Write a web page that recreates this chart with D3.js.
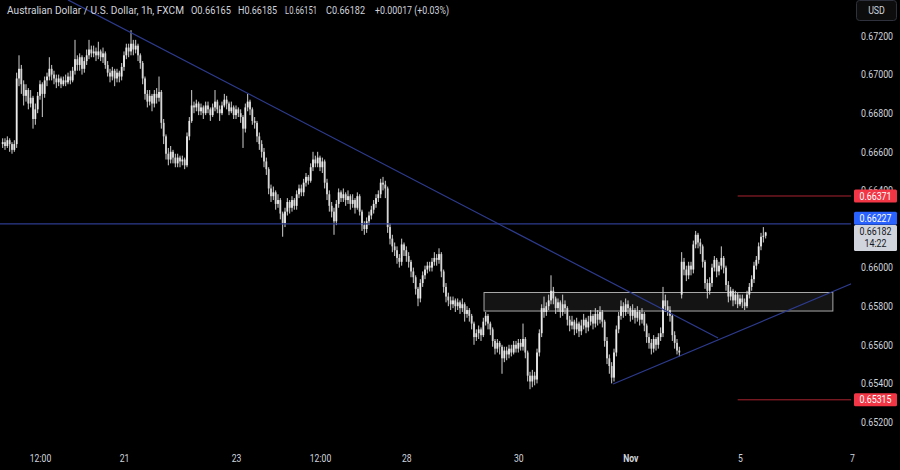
<!DOCTYPE html>
<html><head><meta charset="utf-8">
<script src="https://cdn.jsdelivr.net/npm/d3@7"></script>
<style>html,body{margin:0;padding:0;background:#000;overflow:hidden}</style>
</head><body>
<svg id="c" width="900" height="470"></svg>
<script>
// ---- DATA (AUD/USD, 1h candles, index = candle number) ----
const opens=[
.6664,.6665,.6663,.6666,.6664,.6661,.6664,.6698,.6703,.6695,
.6689,.6692,.6685,.6688,.6677,.6682,.6689,.6695,.6690,.6697,
.6699,.6703,.6700,.6698,.6696,.6698,.6695,.6697,.6696,.6699,
.6697,.6702,.6708,.6705,.6709,.6703,.6707,.6710,.6713,.6711,
.6712,.6710,.6712,.6709,.6711,.6705,.6701,.6699,.6702,.6698,
.6701,.6699,.6704,.6710,.6714,.6712,.6716,.6713,.6715,.6710,
.6706,.6698,.6690,.6686,.6689,.6685,.6690,.6688,.6691,.6675,
.6668,.6659,.6656,.6660,.6657,.6654,.6657,.6655,.6656,.6653,
.6668,.6676,.6684,.6683,.6685,.6681,.6683,.6680,.6684,.6682,
.6679,.6683,.6686,.6682,.6680,.6684,.6687,.6685,.6681,.6683,
.6679,.6682,.6680,.6678,.6672,.6683,.6686,.6682,.6676,.6675,
.6668,.6664,.6660,.6655,.6651,.6641,.6637,.6639,.6633,.6635,
.6628,.6623,.6629,.6634,.6631,.6635,.6632,.6638,.6641,.6639,
.6644,.6647,.6645,.6652,.6656,.6654,.6657,.6652,.6655,.6644,
.6638,.6632,.6629,.6624,.6633,.6639,.6636,.6638,.6635,.6637,
.6633,.6635,.6631,.6637,.6629,.6622,.6620,.6624,.6627,.6630,
.6633,.6636,.6638,.6644,.6643,.6641,.6621,.6615,.6611,.6609,
.6605,.6603,.6612,.6609,.6606,.6603,.6598,.6595,.6589,.6584,
.6592,.6596,.6599,.6601,.6600,.6603,.6605,.6604,.6607,.6598,
.6590,.6585,.6583,.6581,.6583,.6580,.6582,.6579,.6581,.6576,
.6578,.6575,.6571,.6564,.6566,.6568,.6565,.6572,.6575,.6571,
.6568,.6562,.6558,.6561,.6559,.6553,.6557,.6555,.6558,.6556,
.6560,.6558,.6561,.6559,.6563,.6556,.6544,.6541,.6544,.6542,
.6556,.6566,.6579,.6577,.6580,.6583,.6588,.6584,.6579,.6582,
.6577,.6581,.6579,.6573,.6570,.6572,.6568,.6571,.6567,.6570,
.6573,.6569,.6572,.6575,.6571,.6576,.6573,.6577,.6572,.6562,
.6553,.6549,.6543,.6556,.6568,.6575,.6580,.6577,.6581,.6579,
.6575,.6578,.6574,.6577,.6573,.6576,.6570,.6564,.6561,.6558,
.6563,.6560,.6564,.6566,.6583,.6580,.6578,.6575,.6565,.6561,
.6557,.6586,.6603,.6599,.6596,.6601,.6599,.6612,.6617,.6613,
.6611,.6603,.6592,.6588,.6592,.6600,.6604,.6598,.6601,.6605,
.6600,.6591,.6585,.6588,.6583,.6586,.6581,.6584,.6582,.6580,
.6586,.6590,.6594,.6601,.6604,.6611,.6616,.66165];
const highs=[
.6667,.6667,.6668,.6667,.6665,.6666,.6701,.6710,.6705,.6697,
.6695,.6693,.6692,.6689,.6685,.6691,.6697,.6696,.6699,.6701,
.6709,.6705,.6702,.6700,.6700,.6699,.6699,.6700,.6701,.6702,
.6704,.6718,.6710,.6711,.6710,.6709,.6713,.6718,.6715,.6715,
.6714,.6717,.6713,.6714,.6712,.6707,.6703,.6704,.6703,.6703,
.6702,.6706,.6712,.6716,.6716,.6723,.6718,.6718,.6716,.6711,
.6707,.6699,.6692,.6692,.6690,.6692,.6693,.6699,.6692,.6677,
.6669,.6662,.6663,.6661,.6659,.6659,.6658,.6658,.6657,.6670,
.6678,.6692,.6686,.6687,.6686,.6685,.6684,.6686,.6686,.6683,
.6685,.6692,.6687,.6684,.6686,.6690,.6689,.6686,.6686,.6684,
.6684,.6683,.6682,.6679,.6685,.6690,.6687,.6683,.6678,.6676,
.6670,.6666,.6662,.6657,.6652,.6643,.6642,.6640,.6638,.6636,
.6629,.6631,.6636,.6635,.6637,.6636,.6640,.6643,.6643,.6646,
.6649,.6648,.6654,.6660,.6658,.6660,.6658,.6657,.6656,.6646,
.6640,.6634,.6631,.6635,.6641,.6640,.6641,.6639,.6640,.6638,
.6638,.6636,.6639,.6638,.6630,.6624,.6626,.6629,.6632,.6635,
.6638,.6640,.6646,.6647,.6645,.6642,.6623,.6617,.6613,.6611,
.6607,.6615,.6613,.6611,.6608,.6604,.6600,.6596,.6590,.6594,
.6598,.6601,.6603,.6603,.6605,.6608,.6607,.6610,.6608,.6599,
.6592,.6587,.6585,.6585,.6584,.6584,.6583,.6584,.6582,.6580,
.6579,.6576,.6572,.6568,.6570,.6569,.6574,.6577,.6576,.6572,
.6569,.6563,.6563,.6562,.6560,.6559,.6559,.6560,.6560,.6562,
.6562,.6563,.6563,.6571,.6564,.6557,.6546,.6547,.6546,.6558,
.6568,.6581,.6585,.6582,.6586,.6596,.6590,.6585,.6584,.6583,
.6586,.6583,.6580,.6575,.6575,.6573,.6574,.6572,.6573,.6576,
.6574,.6575,.6578,.6576,.6579,.6578,.6580,.6578,.6573,.6564,
.6555,.6551,.6558,.6570,.6577,.6583,.6582,.6584,.6583,.6580,
.6581,.6579,.6580,.6578,.6579,.6577,.6571,.6566,.6563,.6565,
.6564,.6566,.6569,.6590,.6586,.6583,.6580,.6576,.6567,.6563,
.6559,.6608,.6605,.6601,.6603,.6603,.6614,.6619,.6618,.6615,
.6612,.6604,.6594,.6595,.6602,.6606,.6605,.6603,.6611,.6606,
.6601,.6593,.6590,.6589,.6588,.6587,.6586,.6586,.6584,.6588,
.6592,.6596,.6603,.6606,.6613,.6618,.6621,.66185];
const lows=[
.6662,.6661,.6662,.6660,.6659,.6660,.6662,.6694,.6690,.6684,
.6686,.6682,.6683,.6672,.6674,.6680,.6687,.6678,.6688,.6694,
.6697,.6697,.6695,.6693,.6694,.6693,.6694,.6694,.6695,.6695,
.6696,.6700,.6702,.6702,.6700,.6701,.6705,.6708,.6709,.6709,
.6707,.6708,.6707,.6706,.6703,.6699,.6696,.6697,.6694,.6696,
.6696,.6697,.6702,.6708,.6709,.6710,.6710,.6711,.6707,.6703,
.6695,.6687,.6683,.6684,.6681,.6683,.6685,.6686,.6672,.6664,
.6656,.6653,.6654,.6654,.6652,.6652,.6652,.6653,.6651,.6652,
.6666,.6675,.6680,.6681,.6679,.6679,.6677,.6679,.6680,.6676,
.6678,.6681,.6680,.6676,.6679,.6683,.6682,.6679,.6680,.6677,
.6677,.6678,.6675,.6662,.6670,.6681,.6679,.6674,.6672,.6665,
.6661,.6657,.6652,.6648,.6638,.6634,.6635,.6630,.6631,.6625,
.6616,.6621,.6627,.6628,.6629,.6630,.6630,.6636,.6637,.6637,
.6642,.6643,.6644,.6650,.6652,.6652,.6650,.6649,.6641,.6635,
.6629,.6626,.6617,.6622,.6631,.6634,.6634,.6632,.6633,.6630,
.6631,.6628,.6630,.6627,.6619,.6617,.6618,.6622,.6625,.6628,
.6631,.6634,.6636,.6640,.6636,.6618,.6612,.6608,.6606,.6602,
.6600,.6601,.6606,.6603,.6600,.6595,.6592,.6586,.6580,.6582,
.6590,.6594,.6597,.6598,.6598,.6601,.6601,.6602,.6595,.6587,
.6582,.6580,.6578,.6579,.6577,.6578,.6576,.6577,.6572,.6574,
.6572,.6568,.6560,.6562,.6563,.6562,.6564,.6570,.6568,.6565,
.6559,.6555,.6556,.6555,.6545,.6551,.6552,.6553,.6554,.6555,
.6556,.6556,.6557,.6557,.6553,.6541,.6537,.6538,.6539,.6540,
.6554,.6564,.6574,.6575,.6578,.6581,.6581,.6576,.6577,.6574,
.6575,.6576,.6570,.6567,.6568,.6565,.6566,.6564,.6565,.6568,
.6566,.6567,.6570,.6568,.6569,.6570,.6571,.6569,.6559,.6550,
.6545,.6540,.6541,.6554,.6566,.6573,.6574,.6575,.6576,.6572,
.6573,.6571,.6572,.6570,.6571,.6567,.6561,.6558,.6555,.6556,
.6557,.6558,.6562,.6564,.6577,.6575,.6572,.6562,.6558,.6555,
.6554,.6584,.6596,.6593,.6594,.6596,.6597,.6610,.6610,.6607,
.6600,.6589,.6584,.6586,.6590,.6598,.6595,.6596,.6599,.6597,
.6588,.6582,.6583,.6580,.6581,.6579,.6580,.6579,.6578,.6579,
.6584,.6588,.6592,.6599,.6602,.6609,.6613,.66151];
const closes=[
.6665,.6663,.6666,.6664,.6661,.6664,.6698,.6703,.6695,.6689,
.6692,.6685,.6688,.6677,.6682,.6689,.6695,.6690,.6697,.6699,
.6703,.6700,.6698,.6696,.6698,.6695,.6697,.6696,.6699,.6697,
.6702,.6708,.6705,.6709,.6703,.6707,.6710,.6713,.6711,.6712,
.6710,.6712,.6709,.6711,.6705,.6701,.6699,.6702,.6698,.6701,
.6699,.6704,.6710,.6714,.6712,.6716,.6713,.6715,.6710,.6706,
.6698,.6690,.6686,.6689,.6685,.6690,.6688,.6691,.6675,.6668,
.6659,.6656,.6660,.6657,.6654,.6657,.6655,.6656,.6653,.6668,
.6676,.6684,.6683,.6685,.6681,.6683,.6680,.6684,.6682,.6679,
.6683,.6686,.6682,.6680,.6684,.6687,.6685,.6681,.6683,.6679,
.6682,.6680,.6678,.6672,.6683,.6686,.6682,.6676,.6675,.6668,
.6664,.6660,.6655,.6651,.6641,.6637,.6639,.6633,.6635,.6628,
.6623,.6629,.6634,.6631,.6635,.6632,.6638,.6641,.6639,.6644,
.6647,.6645,.6652,.6656,.6654,.6657,.6652,.6655,.6644,.6638,
.6632,.6629,.6624,.6633,.6639,.6636,.6638,.6635,.6637,.6633,
.6635,.6631,.6637,.6629,.6622,.6620,.6624,.6627,.6630,.6633,
.6636,.6638,.6644,.6643,.6641,.6621,.6615,.6611,.6609,.6605,
.6603,.6612,.6609,.6606,.6603,.6598,.6595,.6589,.6584,.6592,
.6596,.6599,.6601,.6600,.6603,.6605,.6604,.6607,.6598,.6590,
.6585,.6583,.6581,.6583,.6580,.6582,.6579,.6581,.6576,.6578,
.6575,.6571,.6564,.6566,.6568,.6565,.6572,.6575,.6571,.6568,
.6562,.6558,.6561,.6559,.6553,.6557,.6555,.6558,.6556,.6560,
.6558,.6561,.6559,.6563,.6556,.6544,.6541,.6544,.6542,.6556,
.6566,.6579,.6577,.6580,.6583,.6588,.6584,.6579,.6582,.6577,
.6581,.6579,.6573,.6570,.6572,.6568,.6571,.6567,.6570,.6573,
.6569,.6572,.6575,.6571,.6576,.6573,.6577,.6572,.6562,.6553,
.6549,.6543,.6556,.6568,.6575,.6580,.6577,.6581,.6579,.6575,
.6578,.6574,.6577,.6573,.6576,.6570,.6564,.6561,.6558,.6563,
.6560,.6564,.6566,.6583,.6580,.6578,.6575,.6565,.6561,.6557,
.6556,.6603,.6599,.6596,.6601,.6599,.6612,.6617,.6613,.6611,
.6603,.6592,.6588,.6592,.6600,.6604,.6598,.6601,.6605,.6600,
.6591,.6585,.6588,.6583,.6586,.6581,.6584,.6582,.6580,.6586,
.6590,.6594,.6601,.6604,.6611,.6616,.66165,.66182];

const timeTickIdx=[16,52,100,136,173,221,269,316,364];
const timeTickLabels=["12:00","21","23","12:00","28","30","Nov","5","7"];
// 0.66200 is hidden behind the price labels in the reference
const priceTicks=[0.672,0.670,0.668,0.666,0.664,0.660,0.658,0.656,0.654,0.652];

const headerTexts=["Australian Dollar / U.S. Dollar, 1h, FXCM","O0.66165","H0.66185","L0.66151","C0.66182","+0.00017 (+0.03%)"];

const resistanceLevel=0.66227;
const lastPrice=0.66182;
const countdown="14:22";
const redLevels=[0.66371,0.65315];
const redLevelStartIdx=315;
const trendDownIdx=[28,306.6], trendDownPrice=[0.67387,0.65635];
const trendUpIdx=[261.6,364.5], trendUpPrice=[0.65397,0.65920];
const zoneIdx=[206.3,355.8], zonePrice=[0.65871,0.65775];

// ---- DRAW ----
const W=900,H=470, plotR=851;
const FONT="Roboto, 'Liberation Sans', sans-serif";
const svg=d3.select('#c');
svg.append('rect').attr('width',W).attr('height',H).attr('fill','#000');
svg.append('defs').append('clipPath').attr('id','clip')
  .append('rect').attr('x',0).attr('y',0).attr('width',plotR).attr('height',446);

const x=d3.scaleLinear().domain([0,364]).range([2.67,852]);
const y=d3.scaleLinear().domain([0.652,0.672]).range([422,36]);

function squeeze(sel,k){
  sel.each(function(){const w=this.getComputedTextLength();
    d3.select(this).attr('textLength',w*k).attr('lengthAdjust','spacingAndGlyphs');});
}

const plot=svg.append('g').attr('clip-path','url(#clip)');

// zone
plot.append('rect')
  .attr('x',x(zoneIdx[0])).attr('y',y(zonePrice[0]))
  .attr('width',x(zoneIdx[1])-x(zoneIdx[0])).attr('height',y(zonePrice[1])-y(zonePrice[0]))
  .attr('fill','rgba(255,255,255,0.08)').attr('stroke','#a8a8a8').attr('stroke-width',1);

// candles
const idx=d3.range(closes.length);
const cg=plot.append('g');
cg.selectAll('line.w').data(idx).join('line').attr('class','w')
  .attr('x1',i=>x(i)).attr('x2',i=>x(i))
  .attr('y1',i=>y(highs[i])).attr('y2',i=>y(lows[i]))
  .attr('stroke','#cfcfcf').attr('stroke-width',1);
cg.selectAll('rect.b').data(idx).join('rect').attr('class','b')
  .attr('x',i=>x(i)-0.9).attr('width',1.8)
  .attr('y',i=>y(Math.max(opens[i],closes[i])))
  .attr('height',i=>Math.max(1,Math.abs(y(opens[i])-y(closes[i]))))
  .attr('fill',i=>closes[i]>=opens[i]?'#ececec':'#d6d6d6');

// horizontal resistance
plot.append('line').attr('x1',0).attr('x2',plotR)
  .attr('y1',y(resistanceLevel)).attr('y2',y(resistanceLevel))
  .attr('stroke','#2d3b8e').attr('stroke-width',1.2);
// trendlines
const tl=d3.line().x(d=>x(d[0])).y(d=>y(d[1]));
plot.append('path').attr('d',tl(trendDownIdx.map((v,k)=>[v,trendDownPrice[k]])))
  .attr('stroke','#2d3b8e').attr('stroke-width',1.2).attr('fill','none');
plot.append('path').attr('d',tl(trendUpIdx.map((v,k)=>[v,trendUpPrice[k]])))
  .attr('stroke','#2d3b8e').attr('stroke-width',1.2).attr('fill','none');
// red levels
redLevels.forEach(p=>{
  svg.append('line').attr('x1',x(redLevelStartIdx)).attr('x2',plotR)
    .attr('y1',y(p)).attr('y2',y(p)).attr('stroke','#a8242f').attr('stroke-width',1);
});

// price axis
const ya=svg.append('g').attr('transform','translate(860,0)')
  .call(d3.axisRight(y).tickValues(priceTicks).tickFormat(d=>d.toFixed(5)).tickSize(0).tickPadding(1));
ya.select('.domain').remove();
ya.selectAll('text').attr('fill','#d1d4dc').style('font-family',FONT).style('font-size','10.5px');
squeeze(ya.selectAll('text'),0.84);

// time axis
const xa=svg.append('g').attr('transform','translate(0,455)')
  .call(d3.axisBottom(x).tickValues(timeTickIdx).tickFormat((d,k)=>timeTickLabels[k]).tickSize(0).tickPadding(0));
xa.select('.domain').remove();
xa.selectAll('text').attr('fill','#d1d4dc').style('font-family',FONT).style('font-size','10.5px')
  .style('font-weight',(d,k)=>timeTickLabels[k]==='Nov'?'bold':'normal');
squeeze(xa.selectAll('text'),0.82);

// price labels
function priceLabel(cy,h,bg,lines,fg){
  svg.append('rect').attr('x',854).attr('y',cy-h/2).attr('width',43).attr('height',h)
    .attr('rx',1.5).attr('fill',bg);
  lines.forEach((t,k)=>{
    const tt=svg.append('text').attr('x',875.5).attr('y',cy-h/2+6.5+k*12).attr('dy','0.35em')
      .attr('text-anchor','middle').attr('fill',fg).style('font-family',FONT).style('font-size','10.5px').text(t);
    squeeze(tt,0.84);
  });
}
priceLabel(y(redLevels[0]),13,'#f23645',[redLevels[0].toFixed(5)],'#ffffff');
priceLabel(y(redLevels[1]),13,'#f23645',[redLevels[1].toFixed(5)],'#ffffff');
priceLabel(218.3,13,'#2962ff',[resistanceLevel.toFixed(5)],'#ffffff');
priceLabel(238,26,'#d1d4dc',[lastPrice.toFixed(5),countdown],'#131722');

// USD box
svg.append('rect').attr('x',856.5).attr('y',0.5).attr('width',40).attr('height',20).attr('rx',3)
  .attr('fill','#0d0d0d').attr('stroke','#2f323c');
const usd=svg.append('text').attr('x',876.5).attr('y',10.5).attr('dy','0.35em').attr('text-anchor','middle')
  .attr('fill','#d1d4dc').style('font-family',FONT).style('font-size','10.5px').text('USD');
squeeze(usd,0.84);

// header
const hx=[7,191,238,285,326,375], hw=[177,40,39,32,39,74];
headerTexts.forEach((t,k)=>{
  svg.append('text').attr('x',hx[k]).attr('y',13.5).attr('fill','#d1d4dc')
    .style('font-family',FONT).style('font-size','10.5px')
    .attr('textLength',hw[k]).attr('lengthAdjust','spacingAndGlyphs').text(t);
});
</script>
</body></html>
